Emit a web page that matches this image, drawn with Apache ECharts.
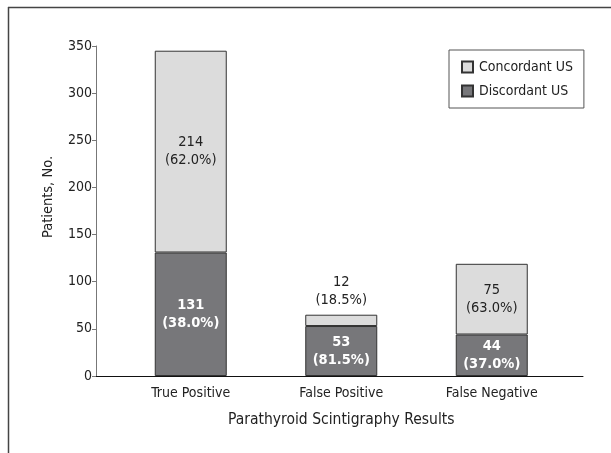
<!DOCTYPE html>
<html>
<head>
<meta charset="utf-8">
<script src="https://cdn.jsdelivr.net/npm/echarts@6/dist/echarts.min.js"></script>
<style>
html,body{margin:0;padding:0;background:#fff;}
#chart{width:611px;height:453px;}
</style>
</head>
<body>
<div id="chart"></div>
<script>
const categories = ['True Positive', 'False Positive', 'False Negative'];
const discordant = [131, 53, 44];
const concordant = [214, 12, 75];
const discordantPct = ['38.0%', '81.5%', '37.0%'];
const concordantPct = ['62.0%', '18.5%', '63.0%'];
const concordantLabelPos = ['inside', 'top', 'inside'];
const yMin = 0, yMax = 350, yInterval = 50;

const FONT = "'Liberation Sans Narrow', 'Arial Narrow', 'DejaVu Sans Condensed', sans-serif";
const TXT = '#222';

const chart = echarts.init(document.getElementById('chart'), null, {renderer: 'canvas'});

const concData = concordant.map((v, i) => ({
  value: v,
  label: {
    position: concordantLabelPos[i],
    distance: 5,
    formatter: v + '\n(' + concordantPct[i] + ')'
  }
}));
const discData = discordant.map((v, i) => ({
  value: v,
  label: { formatter: v + '\n(' + discordantPct[i] + ')' }
}));

const option = {
  animation: false,
  backgroundColor: '#fff',
  textStyle: { fontFamily: FONT },
  graphic: [
    { type: 'line', shape: { x1: 8.5, y1: 7, x2: 8.5, y2: 453 }, style: { stroke: '#444', lineWidth: 1.5 } },
    { type: 'line', shape: { x1: 8, y1: 7.5, x2: 611, y2: 7.5 }, style: { stroke: '#444', lineWidth: 1.5 } }
  ],
  legend: {
    data: ['Concordant US', 'Discordant US'],
    orient: 'vertical',
    left: 449,
    top: 50,
    padding: [10, 11, 10, 12],
    itemGap: 10,
    itemWidth: 11,
    itemHeight: 11,
    icon: 'rect',
    borderColor: '#555',
    borderWidth: 1,
    textStyle: { fontFamily: FONT, fontSize: 14, color: TXT, padding: [0, 0, 0, 1] }
  },
  grid: [
    { left: 96, right: 28, top: 46, bottom: 77, containLabel: false },
    { left: 115.5, right: 44, top: 46, bottom: 77, containLabel: false }
  ],
  xAxis: [
    {
      type: 'value', gridIndex: 0, min: 0, max: 1,
      axisLine: { show: true, onZero: false, lineStyle: { color: '#111', width: 1 } },
      axisTick: { show: false }, axisLabel: { show: false }, splitLine: { show: false }
    },
    {
      type: 'category', gridIndex: 1, data: categories,
      axisLine: { show: false }, axisTick: { show: false },
      axisLabel: { fontFamily: FONT, fontSize: 14, color: TXT, margin: 10 },
      name: 'Parathyroid Scintigraphy Results',
      nameLocation: 'middle',
      nameGap: 36,
      nameTextStyle: { fontFamily: FONT, fontSize: 15.5, color: TXT }
    }
  ],
  yAxis: [
    {
      type: 'value', gridIndex: 0, min: yMin, max: yMax, interval: yInterval,
      axisLine: { show: true, lineStyle: { color: '#777', width: 1 } },
      axisTick: { show: true, length: 4, lineStyle: { color: '#777' } },
      axisLabel: { fontFamily: FONT, fontSize: 14, color: TXT, margin: 4 },
      splitLine: { show: false },
      name: 'Patients, No.',
      nameLocation: 'middle',
      nameGap: 40,
      nameTextStyle: { fontFamily: FONT, fontSize: 14.5, color: TXT, padding: [0, 0, 0, 28] }
    },
    {
      type: 'value', gridIndex: 1, min: yMin, max: yMax, interval: yInterval, show: false
    }
  ],
  series: [
    {
      name: 'Discordant US', type: 'bar', stack: 'total',
      xAxisIndex: 1, yAxisIndex: 1,
      barWidth: 72,
      data: discData,
      itemStyle: { color: '#77777a', borderColor: '#333', borderWidth: 1 },
      label: { show: true, position: 'inside', color: '#fff', fontWeight: 'bold',
               fontFamily: FONT, fontSize: 14.5, lineHeight: 18 }
    },
    {
      name: 'Concordant US', type: 'bar', stack: 'total',
      xAxisIndex: 1, yAxisIndex: 1,
      barWidth: 72,
      data: concData,
      itemStyle: { color: '#dcdcdc', borderColor: '#333', borderWidth: 1 },
      label: { show: true, color: TXT, fontFamily: FONT, fontSize: 14.5, lineHeight: 18 }
    }
  ]
};
chart.setOption(option);
</script>
</body>
</html>
